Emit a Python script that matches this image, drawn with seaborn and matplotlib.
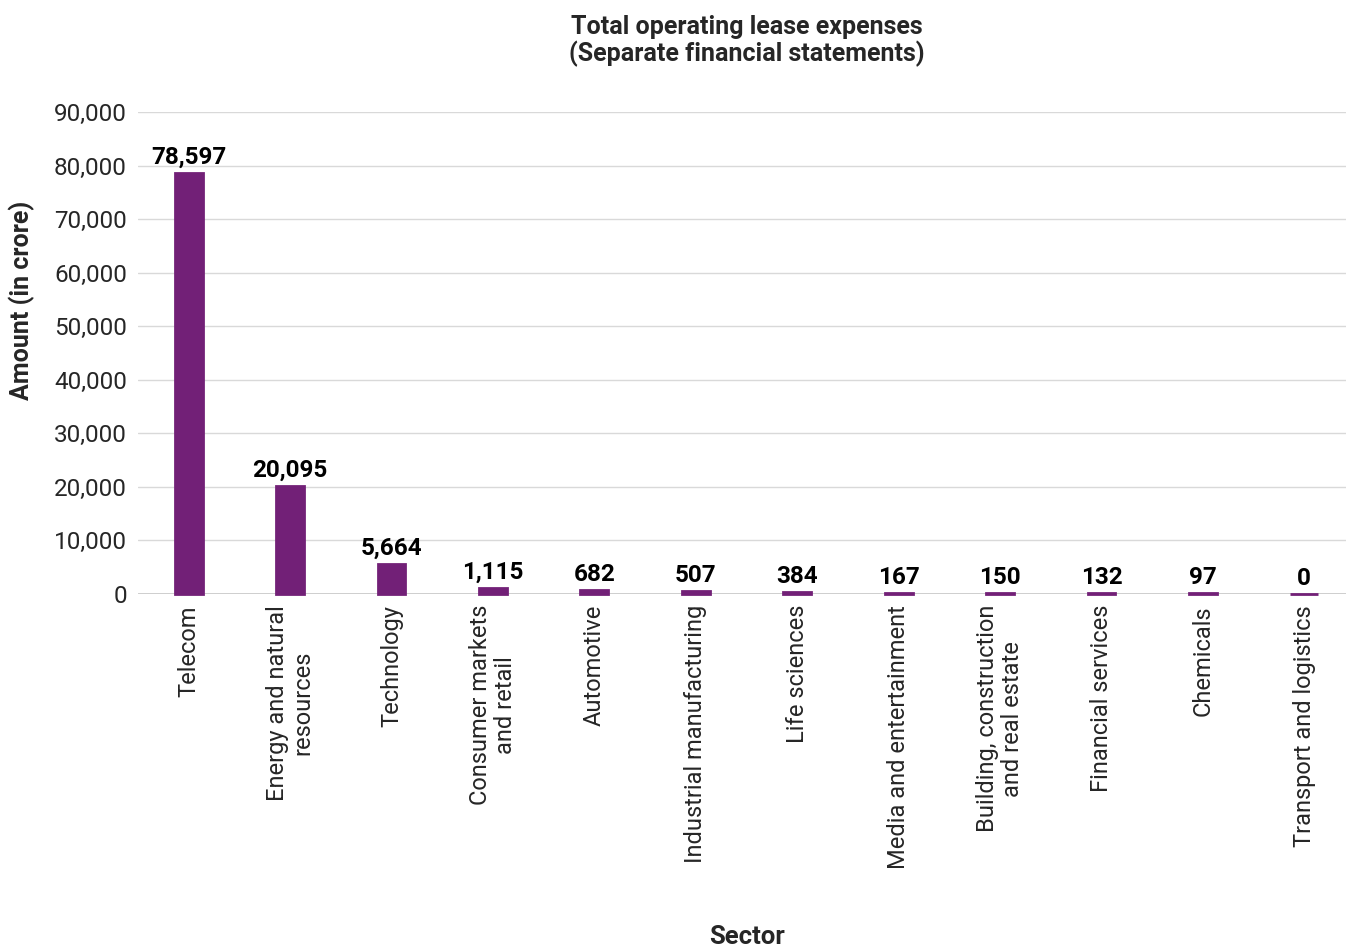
import numpy as np
import matplotlib
matplotlib.use('Agg')
import matplotlib.pyplot as plt
import pandas as pd
import seaborn as sns

sectors = ['Telecom', 'Energy and natural\nresources', 'Technology',
           'Consumer markets\nand retail', 'Automotive', 'Industrial manufacturing',
           'Life sciences', 'Media and entertainment',
           'Building, construction\nand real estate', 'Financial services',
           'Chemicals', 'Transport and logistics']
amounts = [78597, 20095, 5664, 1115, 682, 507, 384, 167, 150, 132, 97, 0]
yticks = [0, 10000, 20000, 30000, 40000, 50000, 60000, 70000, 80000, 90000]

sns.set_style('white')
plt.rcParams['font.family'] = ['Roboto', 'DejaVu Sans']

bar_color = '#722077'
df = pd.DataFrame({'Sector': sectors, 'Amount': amounts})

fig = plt.figure(figsize=(13.46, 9.47), dpi=100)
ax = fig.add_axes([138 / 1346, 1 - 594 / 947, 1217 / 1346, (594 - 112) / 947])

sns.barplot(data=df, x='Sector', y='Amount', color=bar_color, width=0.275,
            saturation=1, ax=ax, zorder=3)
for p in ax.patches:
    p.set_edgecolor(bar_color)
    p.set_linewidth(2)
    p.set_clip_on(False)

ax.set_ylim(0, 90000)
ax.set_yticks(yticks)
ax.set_yticklabels([f'{v:,}' for v in yticks], fontsize=17.5)
ax.grid(axis='y', color='#d9d9d9', linewidth=1, zorder=0)
ax.axhline(0, color='#c8c8c8', linewidth=1.2, zorder=2)
sns.despine(ax=ax, left=True, bottom=True, right=True, top=True)
ax.tick_params(axis='both', length=0, pad=8)
ax.tick_params(axis='y', pad=8)

ax.set_xticks(range(len(sectors)))
ax.set_xticklabels(sectors, rotation=90, fontsize=17, ha='center', va='top',
                   multialignment='center', linespacing=1.15)

for i, v in enumerate(amounts):
    ax.text(i, v + 800, f'{v:,}', ha='center', va='bottom', fontsize=17.5,
            fontweight='bold', color='black')

ax.set_ylabel('Amount (in crore)', fontsize=18, fontweight='bold')
ax.yaxis.set_label_coords(-0.085, 0.61)
ax.set_xlabel('')
fig.text(747 / 1346, 1 - 937 / 947, 'Sector', ha='center', va='center',
         fontsize=18.5, fontweight='bold')
fig.text(747 / 1346, 1 - 41 / 947,
         'Total operating lease expenses\n(Separate financial statements)',
         ha='center', va='center', fontsize=18, fontweight='bold', linespacing=1.1)

fig.savefig('out.png', dpi=100)
